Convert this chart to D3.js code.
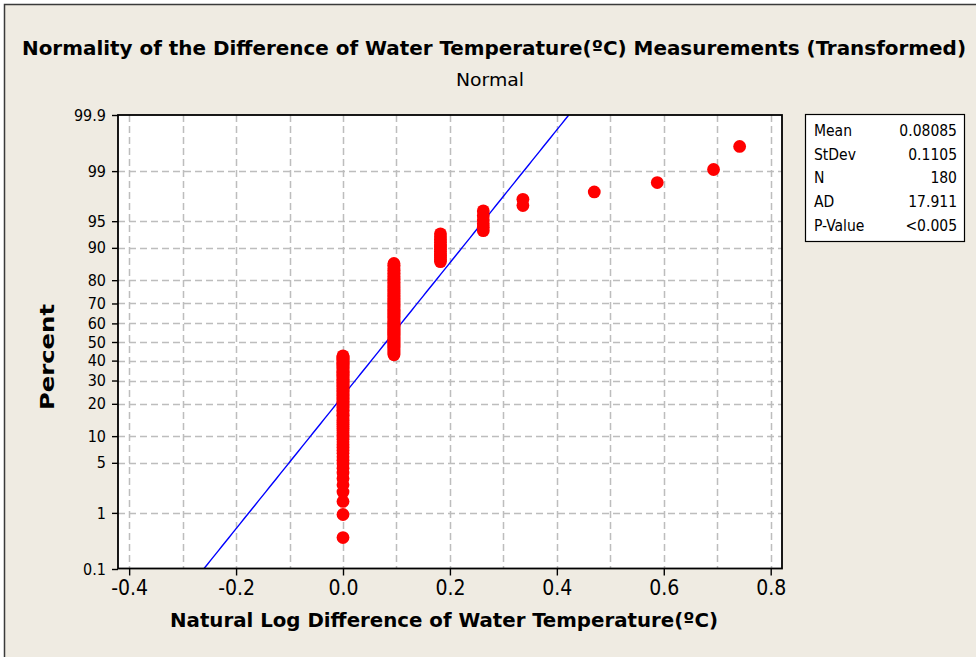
<!DOCTYPE html>
<html>
<head>
<meta charset="utf-8">
<script src="https://cdn.jsdelivr.net/npm/d3@7"></script>
<style>
  html, body { margin: 0; padding: 0; background: #ffffff; }
  svg { display: block; }
  text { font-family: "DejaVu Sans Condensed", "DejaVu Sans", "Liberation Sans", sans-serif; fill: #000; }
</style>
</head>
<body>
<svg id="chart" width="976" height="657"></svg>
<script>
// Distinct observed values (natural log of temperature ratio) and how many times each occurs
const values = [0, 0.0953, 0.1823, 0.2624, 0.3365, 0.4700, 0.5878, 0.6931, 0.7419];
const counts = [77, 78, 13, 6, 2, 1, 1, 1, 1];

// Summary statistics shown in the table and used for the fitted line
const statLabels = ["Mean", "StDev", "N", "AD", "P-Value"];
const statValues = ["0.08085", "0.1105", "180", "17.911", "<0.005"];
const fitMean = 0.08085;
const fitSd = 0.1105;

// Axis ticks
const pctTicks = [0.1, 1, 5, 10, 20, 30, 40, 50, 60, 70, 80, 90, 95, 99, 99.9];
const pctLabels = ["0.1", "1", "5", "10", "20", "30", "40", "50", "60", "70", "80", "90", "95", "99", "99.9"];
const xTicks = [-0.4, -0.2, 0.0, 0.2, 0.4, 0.6, 0.8];
const xGrid = [-0.4, -0.3, -0.2, -0.1, 0.0, 0.1, 0.2, 0.3, 0.4, 0.5, 0.6, 0.7, 0.8];

const FONT = "'DejaVu Sans Condensed', 'DejaVu Sans', 'Liberation Sans', sans-serif";

// Inverse standard normal CDF (Acklam's rational approximation)
function qnorm(p) {
  const a = [-3.969683028665376e+01, 2.209460984245205e+02, -2.759285104469687e+02,
             1.383577518672690e+02, -3.066479806614716e+01, 2.506628277459239e+00];
  const b = [-5.447609879822406e+01, 1.615858368580409e+02, -1.556989798598866e+02,
             6.680131188771972e+01, -1.328068155288572e+01];
  const c = [-7.784894002430293e-03, -3.223964580411365e-01, -2.400758277161838e+00,
             -2.549732539343734e+00, 4.374664141464968e+00, 2.938163982698783e+00];
  const d = [7.784695709041462e-03, 3.224671290700398e-01, 2.445134137142996e+00,
             3.754408661907416e+00];
  const plow = 0.02425, phigh = 1 - plow;
  let q, r;
  if (p < plow) {
    q = Math.sqrt(-2 * Math.log(p));
    return (((((c[0]*q+c[1])*q+c[2])*q+c[3])*q+c[4])*q+c[5]) /
           ((((d[0]*q+d[1])*q+d[2])*q+d[3])*q+1);
  } else if (p <= phigh) {
    q = p - 0.5; r = q * q;
    return (((((a[0]*r+a[1])*r+a[2])*r+a[3])*r+a[4])*r+a[5])*q /
           (((((b[0]*r+b[1])*r+b[2])*r+b[3])*r+b[4])*r+1);
  } else {
    q = Math.sqrt(-2 * Math.log(1 - p));
    return -(((((c[0]*q+c[1])*q+c[2])*q+c[3])*q+c[4])*q+c[5]) /
            ((((d[0]*q+d[1])*q+d[2])*q+d[3])*q+1);
  }
}

// Expand into ordered observations with median-rank plotting positions (i - 0.3)/(n + 0.4)
const obs = [];
values.forEach((v, k) => { for (let j = 0; j < counts[k]; j++) obs.push(v); });
obs.sort((a, b) => a - b);
const n = obs.length;
const points = obs.map((v, i) => ({ x: v, p: (i + 1 - 0.3) / (n + 0.4) }));

const svg = d3.select("#chart");

// Layout
const plot = { left: 118, top: 115, right: 782, bottom: 568.5 };

const x = d3.scaleLinear().domain([0, 0.8]).range([343, 770.7]);
const z = d3.scaleLinear().domain([qnorm(0.001), qnorm(0.999)]).range([569, 115]);
const yPct = pct => z(qnorm(pct / 100));

// Page background and outer frame
svg.append("rect").attr("x", 4.5).attr("y", 4.5).attr("width", 1000).attr("height", 700)
  .attr("fill", "#efebe2").attr("stroke", "#3a3a3a").attr("stroke-width", 1.5);

// Titles
svg.append("text").attr("x", 494).attr("y", 55).attr("text-anchor", "middle")
  .attr("font-size", 20).attr("font-weight", "bold")
  .attr("textLength", 944).attr("lengthAdjust", "spacingAndGlyphs")
  .text("Normality of the Difference of Water Temperature(ºC) Measurements  (Transformed)");
svg.append("text").attr("x", 490).attr("y", 86).attr("text-anchor", "middle")
  .attr("font-size", 18)
  .attr("textLength", 68).attr("lengthAdjust", "spacingAndGlyphs")
  .text("Normal");

// Plot area
svg.append("rect").attr("x", plot.left).attr("y", plot.top)
  .attr("width", plot.right - plot.left).attr("height", plot.bottom - plot.top)
  .attr("fill", "#ffffff");

svg.append("clipPath").attr("id", "plotClip").append("rect")
  .attr("x", plot.left).attr("y", plot.top)
  .attr("width", plot.right - plot.left).attr("height", plot.bottom - plot.top);

// Grid lines
const grid = svg.append("g").attr("stroke", "#bdbdbd").attr("stroke-width", 1.5)
  .attr("stroke-dasharray", "7,4").attr("fill", "none");
grid.selectAll("line.v").data(xGrid).join("line").attr("class", "v")
  .attr("x1", d => Math.round(x(d)) + 0.5).attr("x2", d => Math.round(x(d)) + 0.5)
  .attr("y1", plot.top).attr("y2", plot.bottom);
grid.selectAll("line.h").data(pctTicks.filter(p => p > 0.1 && p < 99.9)).join("line").attr("class", "h")
  .attr("x1", plot.left).attr("x2", plot.right)
  .attr("y1", d => Math.round(yPct(d)) + 0.5).attr("y2", d => Math.round(yPct(d)) + 0.5);

// Fitted normal line
const zLo = qnorm(0.001), zHi = qnorm(0.999);
const fitPts = d3.range(0, 101).map(k => zLo + (zHi - zLo) * k / 100)
  .map(zz => [x(fitMean + fitSd * zz), z(zz)]);
svg.append("path").attr("clip-path", "url(#plotClip)")
  .attr("d", d3.line()(fitPts))
  .attr("fill", "none").attr("stroke", "#0000ff").attr("stroke-width", 1.4);

// Data points
svg.append("g").attr("clip-path", "url(#plotClip)")
  .selectAll("circle").data(points).join("circle")
  .attr("cx", d => x(d.x)).attr("cy", d => z(qnorm(d.p)))
  .attr("r", 6.4).attr("fill", "#ff0000");

// Plot frame
svg.append("rect").attr("x", plot.left).attr("y", plot.top)
  .attr("width", plot.right - plot.left).attr("height", plot.bottom - plot.top)
  .attr("fill", "none").attr("stroke", "#000").attr("stroke-width", 1.8);

// X axis
const xAxis = d3.axisBottom(x).tickValues(xTicks).tickSize(7).tickSizeOuter(0)
  .tickPadding(5).tickFormat(d => d.toFixed(1));
const gx = svg.append("g").attr("transform", `translate(0,${plot.bottom})`).call(xAxis);
gx.select(".domain").remove();
gx.selectAll(".tick line").attr("stroke", "#000").attr("stroke-width", 1.4);
gx.selectAll(".tick text").attr("font-size", 21)
  .attr("font-family", FONT).attr("fill", "#000");

// Y axis (normal probability scale)
const yAxis = d3.axisLeft(z).tickValues(pctTicks.map(p => qnorm(p / 100))).tickSize(6)
  .tickSizeOuter(0).tickPadding(6).tickFormat((d, i) => pctLabels[i]);
const gy = svg.append("g").attr("transform", `translate(${plot.left},0)`).call(yAxis);
gy.select(".domain").remove();
gy.selectAll(".tick line").attr("stroke", "#000").attr("stroke-width", 1.4);
gy.selectAll(".tick text").attr("font-size", 16)
  .attr("font-family", FONT).attr("fill", "#000");

// Axis titles
svg.append("text").attr("x", 444).attr("y", 627).attr("text-anchor", "middle")
  .attr("font-size", 20).attr("font-weight", "bold")
  .attr("textLength", 548).attr("lengthAdjust", "spacingAndGlyphs")
  .text("Natural Log Difference of Water Temperature(ºC)");
svg.append("text").attr("transform", "translate(54,357) rotate(-90)")
  .attr("text-anchor", "middle").attr("font-size", 20).attr("font-weight", "bold")
  .attr("textLength", 106).attr("lengthAdjust", "spacingAndGlyphs")
  .text("Percent");

// Statistics table
const box = { x: 805, y: 114, w: 159, h: 127 };
svg.append("rect").attr("x", box.x + 0.5).attr("y", box.y + 0.5).attr("width", box.w).attr("height", box.h)
  .attr("fill", "#ffffff").attr("stroke", "#000").attr("stroke-width", 1.2);
const rows = svg.append("g").selectAll("g").data(statLabels).join("g")
  .attr("transform", (d, i) => `translate(0,${136 + i * 23.7})`);
rows.append("text").attr("x", 814).attr("font-size", 15.5).text(d => d);
rows.append("text").attr("x", 957).attr("text-anchor", "end").attr("font-size", 15.5)
  .text((d, i) => statValues[i]);
</script>
</body>
</html>
